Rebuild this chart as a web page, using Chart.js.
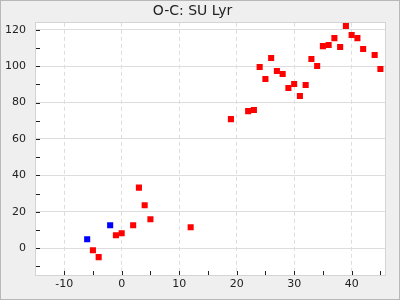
<!DOCTYPE html>
<html>
<head>
<meta charset="utf-8">
<script src="https://cdn.jsdelivr.net/npm/chart.js@4/dist/chart.umd.min.js"></script>
<style>
  html, body { margin: 0; padding: 0; background: #efefef; }
  #wrap { width: 400px; height: 300px; }
</style>
</head>
<body>
<div id="wrap"><canvas id="chart" width="400" height="300"></canvas></div>
<script>
// O-C values: epoch (x) and O-C (y)
const redEpochs = [-5, -4, -1, 0, 2, 3, 4, 5, 12, 19, 22, 23, 24, 25, 26, 27, 28, 29, 30, 31, 32, 33, 34, 35, 36, 37, 38, 39, 40, 41, 42, 44, 45]
const redOC     = [-1.1, -4.9, 7.1, 8.2, 12.6, 33.3, 23.6, 15.9, 11.5, 70.9, 75.3, 75.9, 99.5, 92.9, 104.5, 97.3, 95.7, 88.0, 90.2, 83.6, 89.6, 103.9, 100.1, 111.0, 111.6, 115.4, 110.5, 122.0, 117.1, 115.4, 109.4, 106.1, 98.4]
const blueEpochs = [-6, -2]
const blueOC     = [4.9, 12.6]

const xMin = -14.9, xMax = 45.8
const yMin = -14.7, yMax = 123.8

const toPoints = (xs, ys) => xs.map((x, i) => ({ x, y: ys[i] }))

// frame, plot border and inward tick marks (major + minor)
const frame = {
  id: "frame",
  beforeDraw(chart) {
    const { ctx, chartArea: a } = chart
    ctx.save()
    ctx.fillStyle = "#efefef"
    ctx.fillRect(0, 0, chart.width, chart.height)
    ctx.fillStyle = "#ffffff"
    ctx.fillRect(a.left, a.top, a.right - a.left, a.bottom - a.top)
    ctx.strokeStyle = "#b8b8b8"
    ctx.lineWidth = 1
    ctx.strokeRect(0.5, 0.5, chart.width - 1, chart.height - 1)
    ctx.restore()
  },
  afterDatasetsDraw(chart) {
    const { ctx, chartArea: a, scales } = chart
    ctx.save()
    ctx.strokeStyle = "#d4d4d4"
    ctx.lineWidth = 1
    ctx.strokeRect(Math.round(a.left) - 0.5, Math.round(a.top) - 0.5,
                   Math.round(a.right - a.left) + 1, Math.round(a.bottom - a.top) + 1)
    ctx.strokeStyle = "#222"
    ctx.beginPath()
    for (let v = -10; v <= 120; v += 10) {
      const y = Math.round(scales.y.getPixelForValue(v)) + 0.5
      ctx.moveTo(a.left, y)
      ctx.lineTo(a.left + 4, y)
    }
    for (let v = -10; v <= 45; v += 5) {
      const x = Math.round(scales.x.getPixelForValue(v)) + 0.5
      ctx.moveTo(x, a.bottom)
      ctx.lineTo(x, a.bottom - 4)
    }
    ctx.stroke()
    ctx.restore()
  },
}

new Chart(document.getElementById("chart"), {
  type: "scatter",
  data: {
    datasets: [
      {
        label: "red",
        data: toPoints(redEpochs, redOC),
        pointStyle: "rect",
        pointRadius: 4.3,
        borderWidth: 0,
        backgroundColor: "#ff0000",
      },
      {
        label: "blue",
        data: toPoints(blueEpochs, blueOC),
        pointStyle: "rect",
        pointRadius: 4.3,
        borderWidth: 0,
        backgroundColor: "#0000ff",
      },
    ],
  },
  options: {
    responsive: false,
    animation: false,
    layout: { padding: { left: 0, right: 15, top: 0, bottom: 0 } },
    plugins: {
      legend: { display: false },
      tooltip: { enabled: false },
      title: {
        display: true,
        text: "O-C: SU Lyr",
        color: "#222",
        font: { family: "DejaVu Sans", size: 14, weight: "normal", lineHeight: 1.2 },
        padding: { top: 3, bottom: 3 },
      },
    },
    scales: {
      x: {
        type: "linear",
        min: xMin,
        max: xMax,
        afterBuildTicks: (s) => { s.ticks = [-10, 0, 10, 20, 30, 40].map(v => ({ value: v })) },
        afterFit: (s) => { s.height = 25 },
        grid: { color: "#dddddd", drawTicks: false },
        border: { display: false, dash: [4, 3] },
        ticks: { color: "#222", padding: 3, font: { family: "DejaVu Sans", size: 11 } },
      },
      y: {
        type: "linear",
        min: yMin,
        max: yMax,
        afterBuildTicks: (s) => { s.ticks = [0, 20, 40, 60, 80, 100, 120].map(v => ({ value: v })) },
        afterFit: (s) => { s.width = 36 },
        grid: { color: "#dddddd", drawTicks: false },
        border: { display: false },
        ticks: { color: "#222", padding: 10, font: { family: "DejaVu Sans", size: 11 } },
      },
    },
  },
  plugins: [frame],
})
</script>
</body>
</html>
